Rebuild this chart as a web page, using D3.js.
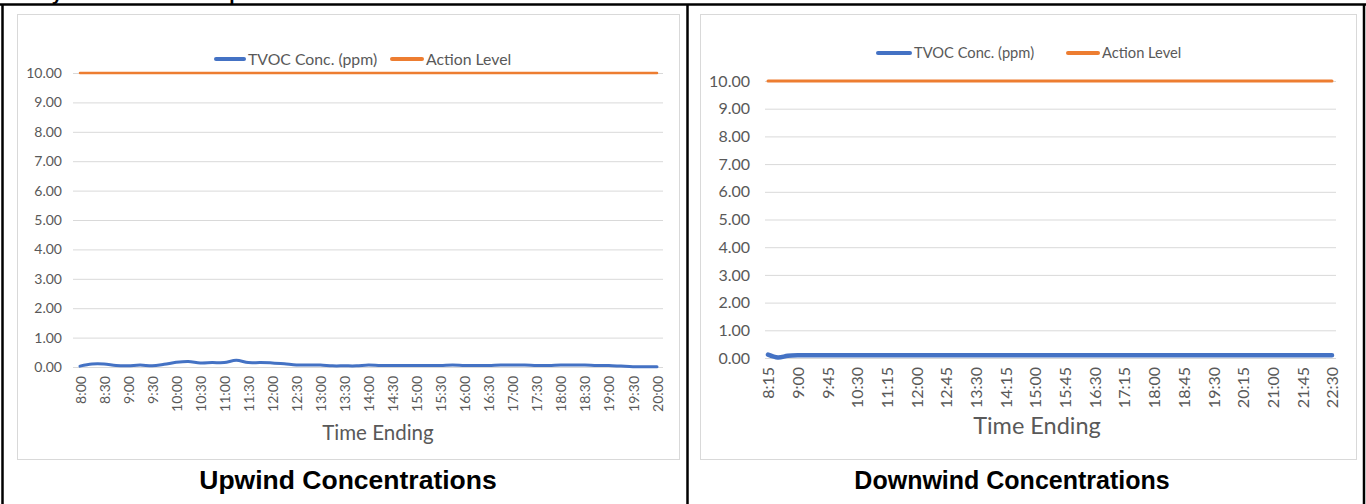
<!DOCTYPE html>
<html>
<head>
<meta charset="utf-8">
<script src="https://cdn.jsdelivr.net/npm/d3@7"></script>
<style>
  html, body { margin: 0; padding: 0; background: #fff; }
  svg { display: block; }
</style>
</head>
<body>
<svg id="page" width="1366" height="504"></svg>
<script>
// ---- Upwind station: 15-minute readings, 8:00 to 20:00 ----
const upwindTimes = [
  "8:00","8:15","8:30","8:45","9:00","9:15","9:30","9:45",
  "10:00","10:15","10:30","10:45","11:00","11:15","11:30","11:45",
  "12:00","12:15","12:30","12:45","13:00","13:15","13:30","13:45",
  "14:00","14:15","14:30","14:45","15:00","15:15","15:30","15:45",
  "16:00","16:15","16:30","16:45","17:00","17:15","17:30","17:45",
  "18:00","18:15","18:30","18:45","19:00","19:15","19:30","19:45","20:00"
];
const upwindTVOC = [
  0.03,0.10,0.10,0.05,0.04,0.07,0.04,0.09,
  0.16,0.19,0.14,0.15,0.15,0.23,0.15,0.15,
  0.14,0.11,0.07,0.07,0.07,0.04,0.04,0.04,
  0.07,0.05,0.05,0.05,0.05,0.05,0.05,0.07,
  0.05,0.05,0.05,0.07,0.07,0.07,0.05,0.05,
  0.07,0.07,0.07,0.05,0.05,0.03,0.01,0.01,0.01
];
const upwindAction = [
  10,10,10,10,10,10,10,10,10,10,10,10,10,10,10,10,
  10,10,10,10,10,10,10,10,10,10,10,10,10,10,10,10,
  10,10,10,10,10,10,10,10,10,10,10,10,10,10,10,10,10
];
const upwindTickLabels = [
  "8:00","8:30","9:00","9:30","10:00","10:30","11:00","11:30","12:00",
  "12:30","13:00","13:30","14:00","14:30","15:00","15:30","16:00",
  "16:30","17:00","17:30","18:00","18:30","19:00","19:30","20:00"
];

// ---- Downwind station: 15-minute readings, 8:15 to 22:30 ----
const downwindTimes = [
  "8:15","8:30","8:45","9:00","9:15","9:30","9:45","10:00","10:15","10:30",
  "10:45","11:00","11:15","11:30","11:45","12:00","12:15","12:30","12:45","13:00",
  "13:15","13:30","13:45","14:00","14:15","14:30","14:45","15:00","15:15","15:30",
  "15:45","16:00","16:15","16:30","16:45","17:00","17:15","17:30","17:45","18:00",
  "18:15","18:30","18:45","19:00","19:15","19:30","19:45","20:00","20:15","20:30",
  "20:45","21:00","21:15","21:30","21:45","22:00","22:15","22:30"
];
const downwindTVOC = [
  0.12,0.02,0.08,0.10,0.10,0.10,0.10,0.10,0.10,0.10,
  0.10,0.10,0.10,0.10,0.10,0.10,0.10,0.10,0.10,0.10,
  0.10,0.10,0.10,0.10,0.10,0.10,0.10,0.10,0.10,0.10,
  0.10,0.10,0.10,0.10,0.10,0.10,0.10,0.10,0.10,0.10,
  0.10,0.10,0.10,0.10,0.10,0.10,0.10,0.10,0.10,0.10,
  0.10,0.10,0.10,0.10,0.10,0.10,0.10,0.10
];
const downwindAction = [
  10,10,10,10,10,10,10,10,10,10,10,10,10,10,10,10,10,10,10,10,
  10,10,10,10,10,10,10,10,10,10,10,10,10,10,10,10,10,10,10,10,
  10,10,10,10,10,10,10,10,10,10,10,10,10,10,10,10,10,10
];
const downwindTickLabels = [
  "8:15","9:00","9:45","10:30","11:15","12:00","12:45","13:30","14:15","15:00",
  "15:45","16:30","17:15","18:00","18:45","19:30","20:15","21:00","21:45","22:30"
];

const yTicks = [0,1,2,3,4,5,6,7,8,9,10];
const seriesNames = ["TVOC Conc. (ppm)", "Action Level"];
const panelTitles = ["Upwind Concentrations", "Downwind Concentrations"];
const axisTitle = "Time Ending";

const BLUE = "#4472C4", ORANGE = "#ED7D31", GRID = "#d9d9d9", TEXT = "#595959";
const FONT = "Lato, 'Open Sans', sans-serif";

const svg = d3.select("#page");
svg.append("rect").attr("width", 1366).attr("height", 504).attr("fill", "#fff");

// Heading of the page, running above the top edge
svg.append("text")
  .attr("x", 17).attr("y", 0)
  .attr("font-family", "'Liberation Sans', Arial, sans-serif")
  .attr("font-weight", "bold").attr("font-size", 19)
  .attr("fill", "#000")
  .text("Daily TVOC Results \u2013 Upwind and Downwind");

function drawChart(cfg) {
  const g = svg.append("g");

  // chart frame
  g.append("rect")
    .attr("x", cfg.frame[0] + 0.5).attr("y", cfg.frame[1] + 0.5)
    .attr("width", cfg.frame[2] - cfg.frame[0]).attr("height", cfg.frame[3] - cfg.frame[1])
    .attr("fill", "#fff").attr("stroke", GRID).attr("stroke-width", 1);

  const x = d3.scalePoint().domain(cfg.times).range(cfg.xRange);
  const y = d3.scaleLinear().domain([0, 10]).range([cfg.yZero, cfg.yTop]);

  // horizontal gridlines
  const grid = g.append("g")
    .attr("transform", `translate(${cfg.gridX[0]},0)`)
    .call(d3.axisLeft(y).tickValues(yTicks).tickSize(-(cfg.gridX[1] - cfg.gridX[0])).tickFormat(""));
  grid.select(".domain").remove();
  grid.selectAll(".tick line").attr("stroke", GRID).attr("stroke-width", 1);

  // y tick labels
  const ya = g.append("g")
    .attr("transform", `translate(${cfg.yLabelX},0)`)
    .call(d3.axisLeft(y).tickValues(yTicks).tickSize(0).tickPadding(0).tickFormat(d3.format(".2f")));
  ya.select(".domain").remove();
  ya.selectAll("text")
    .attr("font-family", FONT).attr("font-size", cfg.tickFont).attr("fill", TEXT);

  // x tick labels, rotated
  const xa = g.append("g")
    .attr("transform", `translate(0,${cfg.xLabelY})`)
    .call(d3.axisBottom(x).tickValues(cfg.tickLabels).tickSize(0).tickPadding(0));
  xa.select(".domain").remove();
  xa.selectAll("text")
    .attr("font-family", FONT).attr("font-size", cfg.tickFont).attr("fill", TEXT)
    .attr("text-anchor", "end")
    .attr("transform", "rotate(-90)")
    .attr("x", 0).attr("y", 0).attr("dy", "0.36em");

  // series lines
  const actionLine = d3.line().x((d, i) => x(cfg.times[i])).y(d => y(d));
  g.append("path").datum(cfg.action)
    .attr("d", actionLine).attr("fill", "none")
    .attr("stroke", ORANGE).attr("stroke-width", cfg.orangeWidth).attr("stroke-linecap", "round");

  const tvocLine = d3.line().x((d, i) => x(cfg.times[i])).y(d => y(d))
    .curve(d3.curveCatmullRom.alpha(0.5));
  g.append("path").datum(cfg.tvoc)
    .attr("d", tvocLine).attr("fill", "none")
    .attr("stroke", BLUE).attr("stroke-width", cfg.blueWidth)
    .attr("stroke-linecap", "round").attr("stroke-linejoin", "round");

  // legend
  const leg = g.append("g");
  const colors = [BLUE, ORANGE];
  cfg.legend.forEach((lx, i) => {
    leg.append("line")
      .attr("x1", lx[0] + 2).attr("x2", lx[1] - 2)
      .attr("y1", cfg.legendY).attr("y2", cfg.legendY)
      .attr("stroke", colors[i]).attr("stroke-width", 4).attr("stroke-linecap", "round");
    leg.append("text")
      .attr("x", lx[1] + 2).attr("y", cfg.legendY).attr("dy", "0.35em")
      .attr("font-family", FONT).attr("font-size", cfg.legendFont).attr("fill", TEXT)
      .text(seriesNames[i]);
  });

  // axis title
  g.append("text")
    .attr("x", cfg.axisTitle[0]).attr("y", cfg.axisTitle[1])
    .attr("text-anchor", "middle")
    .attr("font-family", FONT).attr("font-size", cfg.axisTitleFont).attr("fill", TEXT)
    .text(axisTitle);

  // panel caption below the chart
  svg.append("text")
    .attr("x", cfg.caption[0]).attr("y", cfg.caption[1])
    .attr("text-anchor", "middle")
    .attr("font-family", "'Liberation Sans', Arial, sans-serif")
    .attr("font-weight", "bold").attr("font-size", cfg.captionFont).attr("fill", "#000")
    .text(cfg.title);
}

drawChart({
  frame: [17, 14, 679, 459],
  times: upwindTimes, tvoc: upwindTVOC, action: upwindAction, tickLabels: upwindTickLabels,
  xRange: [80, 657], yZero: 367, yTop: 73,
  gridX: [73, 663], yLabelX: 62, xLabelY: 376,
  tickFont: 14, legendFont: 15.8, axisTitleFont: 20.5,
  blueWidth: 3, orangeWidth: 2.5,
  legend: [[214, 246], [390, 424]], legendY: 59,
  axisTitle: [378, 440],
  caption: [348, 489], captionFont: 26.5, title: panelTitles[0]
});

drawChart({
  frame: [700, 14, 1356, 459],
  times: downwindTimes, tvoc: downwindTVOC, action: downwindAction, tickLabels: downwindTickLabels,
  xRange: [768, 1332], yZero: 358, yTop: 81,
  gridX: [765, 1336], yLabelX: 750, xLabelY: 367,
  tickFont: 16, legendFont: 14.7, axisTitleFont: 23.5,
  blueWidth: 4.5, orangeWidth: 3,
  legend: [[876, 912], [1066, 1100]], legendY: 53,
  axisTitle: [1037, 434],
  caption: [1012, 489], captionFont: 25, title: panelTitles[1]
});

// table borders around the two panels
const borders = svg.append("g").attr("stroke", "#000").attr("stroke-width", 2.5);
borders.append("line").attr("x1", 0).attr("x2", 1366).attr("y1", 4.5).attr("y2", 4.5);
borders.append("line").attr("x1", 2.5).attr("x2", 2.5).attr("y1", 4).attr("y2", 504);
borders.append("line").attr("x1", 687.5).attr("x2", 687.5).attr("y1", 4).attr("y2", 504);
borders.append("line").attr("x1", 1364).attr("x2", 1364).attr("y1", 4).attr("y2", 504);
</script>
</body>
</html>
